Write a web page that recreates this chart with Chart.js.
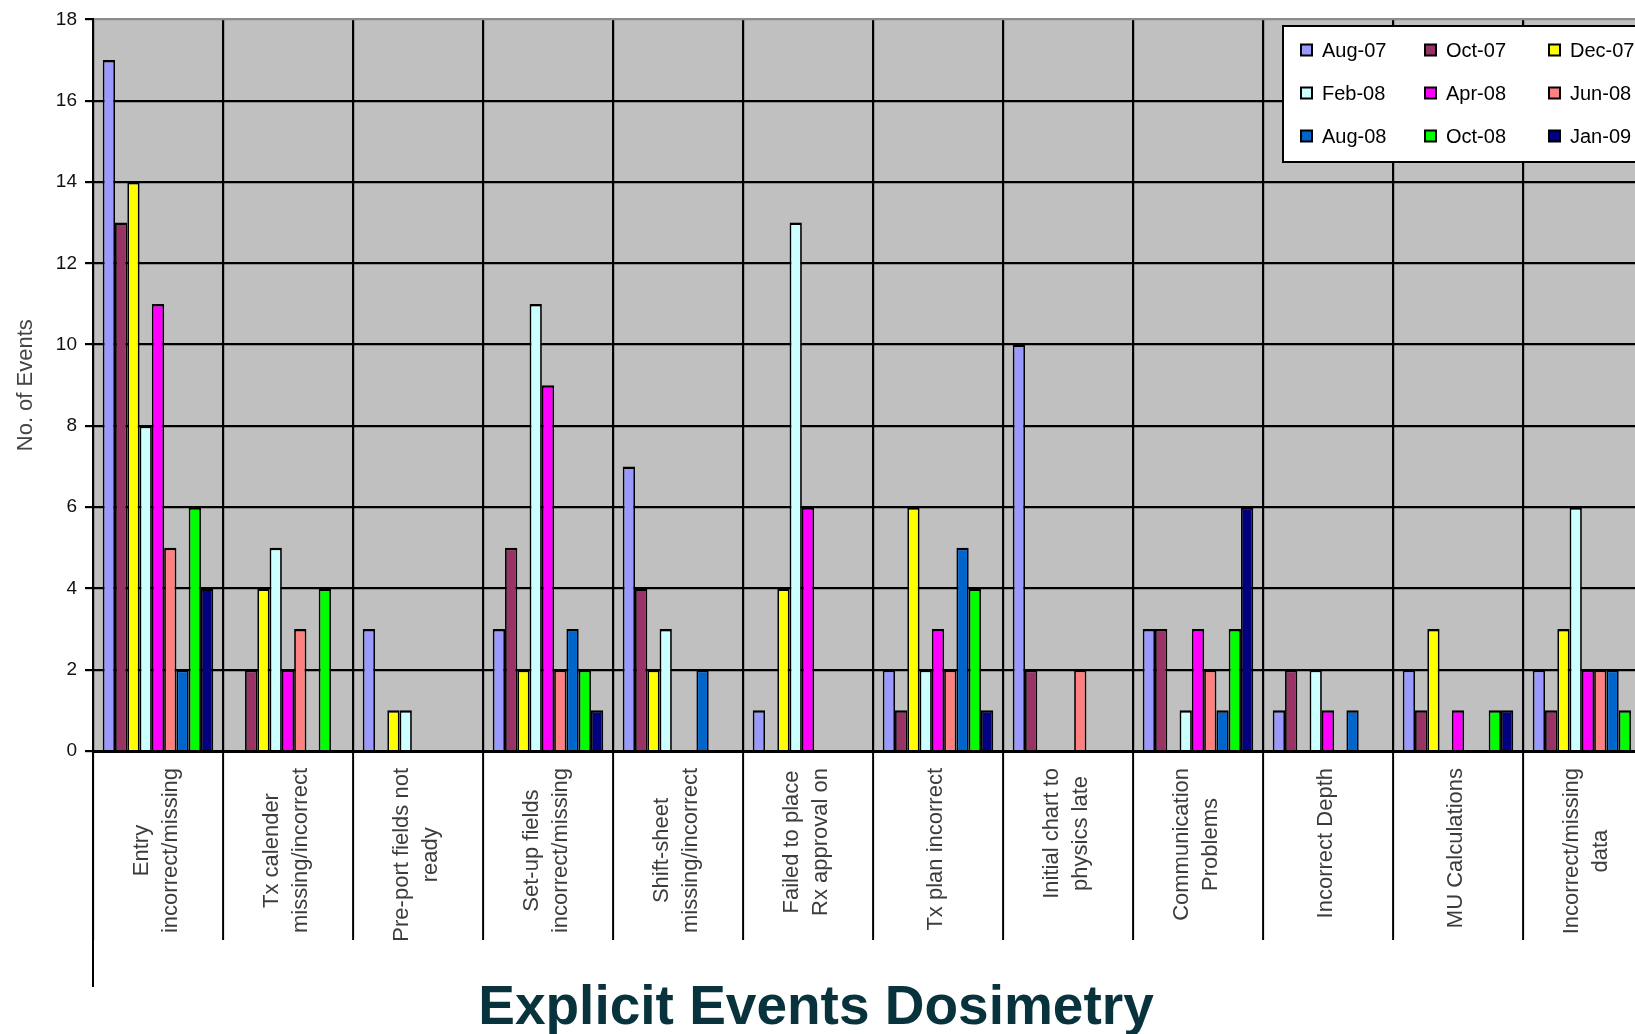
<!DOCTYPE html>
<html>
<head>
<meta charset="utf-8">
<title>Explicit Events Dosimetry</title>
<script src="https://cdn.jsdelivr.net/npm/chart.js@4.4.0/dist/chart.umd.min.js"></script>
<style>
  html, body { margin: 0; padding: 0; background: #fff; overflow: hidden; }
  #wrap { position: relative; width: 1700px; height: 1034px; }
</style>
</head>
<body>
<div id="wrap"><canvas id="chart"></canvas></div>
<script>
// Event categories (multi-line labels are arrays of lines)
const categories = [
  ["Entry", "incorrect/missing"],
  ["Tx calender", "missing/incorrect"],
  ["Pre-port fields not", "ready"],
  ["Set-up fields", "incorrect/missing"],
  ["Shift-sheet", "missing/incorrect"],
  ["Failed to place", "Rx approval on"],
  "Tx plan incorrect",
  ["Initial chart to", "physics late"],
  ["Communication", "Problems"],
  "Incorrect Depth",
  "MU Calculations",
  ["Incorrect/missing", "data"]
];

// Number of events per survey period
const aug07 = [17, 0, 3, 3, 7, 1, 2, 10, 3, 1, 2, 2];
const oct07 = [13, 2, 0, 5, 4, 0, 1, 2, 3, 2, 1, 1];
const dec07 = [14, 4, 1, 2, 2, 4, 6, 0, 0, 0, 3, 3];
const feb08 = [8, 5, 1, 11, 3, 13, 2, 0, 1, 2, 0, 6];
const apr08 = [11, 2, 0, 9, 0, 6, 3, 0, 3, 1, 1, 2];
const jun08 = [5, 3, 0, 2, 0, 0, 2, 2, 2, 0, 0, 2];
const aug08 = [2, 0, 0, 3, 2, 0, 5, 0, 1, 1, 0, 2];
const oct08 = [6, 4, 0, 2, 0, 0, 4, 0, 3, 0, 1, 1];
const jan09 = [4, 0, 0, 1, 0, 0, 1, 0, 6, 0, 1, 0];

const seriesNames = ["Aug-07", "Oct-07", "Dec-07", "Feb-08", "Apr-08", "Jun-08", "Aug-08", "Oct-08", "Jan-09"];
const seriesValues = [aug07, oct07, dec07, feb08, apr08, jun08, aug08, oct08, jan09];
const seriesColors = ["#9999FF", "#993366", "#FFFF00", "#CCFFFF", "#FF00FF", "#FF8080", "#0066CC", "#00FF00", "#000080"];

const yTicks = { min: 0, max: 18, step: 2 };
const yTitle = "No. of Events";
const chartTitle = "Explicit Events Dosimetry";

const FONT = '"Liberation Sans", Arial, Helvetica, sans-serif';

const datasets = seriesNames.map((name, i) => ({
  label: name,
  data: seriesValues[i],
  backgroundColor: seriesColors[i],
  borderColor: "#000",
  borderWidth: { top: 2.5, left: 1.75, right: 1.75, bottom: 0 },
  categoryPercentage: 0.85,
  barPercentage: 1
}));

// Grey plot area
const plotBackground = {
  id: "plotBackground",
  beforeDraw(chart) {
    const { ctx, chartArea: a } = chart;
    ctx.save();
    ctx.fillStyle = "#C0C0C0";
    ctx.fillRect(a.left, a.top, a.right - a.left, a.bottom - a.top);
    ctx.restore();
  }
};

// Vertical category labels, axis extension and the bottom heading
const categoryLabels = {
  id: "categoryLabels",
  afterDraw(chart) {
    const { ctx, chartArea: a } = chart;
    const xs = chart.scales.x;
    ctx.save();
    ctx.font = "22px " + FONT;
    ctx.fillStyle = "#3c3c3c";
    ctx.textAlign = "center";
    ctx.textBaseline = "middle";
    const lineGap = 29;
    const top = a.bottom + 17;
    categories.forEach((lab, i) => {
      const lines = Array.isArray(lab) ? lab : [lab];
      const maxW = Math.max(...lines.map(l => ctx.measureText(l).width));
      const cx = xs.getPixelForValue(i) - 2;
      lines.forEach((l, j) => {
        const lx = cx + (j - (lines.length - 1) / 2) * lineGap;
        ctx.save();
        ctx.translate(lx, top + maxW / 2);
        ctx.rotate(-Math.PI / 2);
        ctx.fillText(l, 0, 0);
        ctx.restore();
      });
    });

    // left axis continues down past the label band
    ctx.strokeStyle = "#000";
    ctx.lineWidth = 2;
    ctx.beginPath();
    ctx.moveTo(a.left, a.bottom);
    ctx.lineTo(a.left, a.bottom + 236);
    ctx.stroke();

    ctx.font = "bold 55px " + FONT;
    ctx.fillStyle = "#08333c";
    ctx.textAlign = "center";
    ctx.textBaseline = "alphabetic";
    ctx.fillText(chartTitle, 816, 1024);
    ctx.restore();
  }
};

// Boxed legend in three columns inside the plot
const boxLegend = {
  id: "boxLegend",
  afterDraw(chart) {
    const { ctx, chartArea: a } = chart;
    const left = a.right - 370, top = 26, bottom = 162;
    ctx.save();
    ctx.fillStyle = "#fff";
    ctx.fillRect(left, top, a.right + 40 - left, bottom - top);
    ctx.strokeStyle = "#000";
    ctx.lineWidth = 2;
    ctx.strokeRect(left, top, a.right + 40 - left, bottom - top);
    ctx.font = "20px " + FONT;
    ctx.textAlign = "left";
    ctx.textBaseline = "middle";
    chart.data.datasets.forEach((ds, i) => {
      const col = i % 3, row = Math.floor(i / 3);
      const mx = left + 18 + col * 124;
      const my = 50 + row * 43;
      ctx.fillStyle = ds.backgroundColor;
      ctx.fillRect(mx, my - 5.5, 11, 11);
      ctx.strokeStyle = "#000";
      ctx.lineWidth = 2;
      ctx.strokeRect(mx, my - 5.5, 11, 11);
      ctx.fillStyle = "#000";
      ctx.fillText(ds.label, mx + 21, my + 1);
    });
    ctx.restore();
  }
};

new Chart(document.getElementById("chart"), {
  type: "bar",
  data: { labels: categories, datasets },
  options: {
    responsive: true,
    maintainAspectRatio: false,
    animation: false,
    layout: { padding: { top: 15, right: 47, left: 0, bottom: 0 } },
    plugins: {
      legend: { display: false },
      tooltip: { enabled: false },
      title: { display: false }
    },
    scales: {
      x: {
        offset: true,
        grid: {
          offset: true,
          color: "#000",
          lineWidth: 2.2,
          drawTicks: true,
          tickLength: 189,
          tickColor: "#000",
          tickWidth: 2
        },
        border: { display: true, color: "#000", width: 3 },
        ticks: { display: false },
        afterFit(s) { s.height = 283; }
      },
      y: {
        min: yTicks.min,
        max: yTicks.max,
        ticks: {
          stepSize: yTicks.step,
          color: "#111",
          font: { size: 19, family: FONT },
          padding: 8
        },
        grid: {
          color: c => (c.tick && c.tick.value === yTicks.max ? "#8c8c8c" : "#000"),
          lineWidth: 2.2,
          tickLength: 8,
          tickColor: "#000"
        },
        border: { display: true, color: "#000", width: 2 },
        title: {
          display: true,
          text: yTitle,
          color: "#444",
          font: { size: 22, family: FONT },
          padding: { top: 13, bottom: 0 }
        },
        afterFit(s) { s.width = 93; }
      }
    }
  },
  plugins: [plotBackground, categoryLabels, boxLegend]
});
</script>
</body>
</html>
